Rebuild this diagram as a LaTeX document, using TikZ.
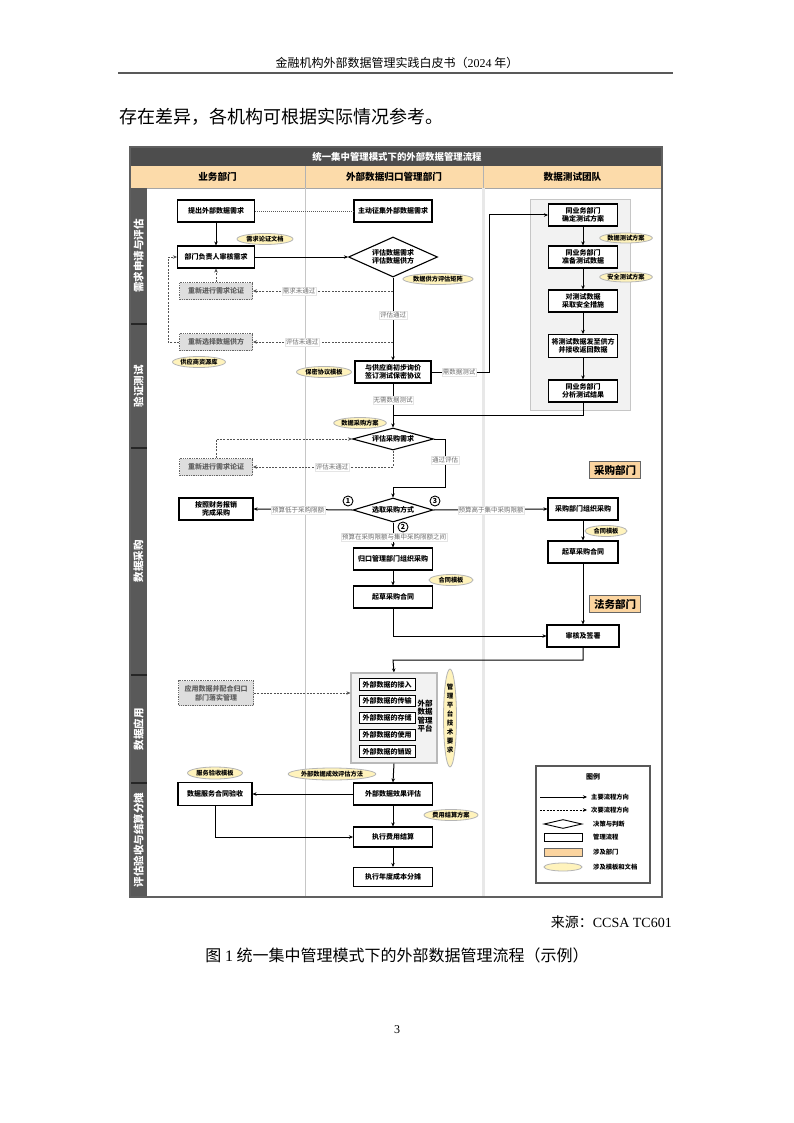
\documentclass[tikz,border=0pt]{standalone}
\usepackage{fontspec}
\setmainfont{Noto Sans CJK SC}
\newfontfamily\latinserif{Liberation Serif}
\usetikzlibrary{shapes.geometric,arrows.meta}

\definecolor{titlebg}{HTML}{4D4D4D}
\definecolor{lanebg}{HTML}{595959}
\definecolor{peach}{HTML}{FCDBAA}
\definecolor{deptfill}{HTML}{FBD49F}
\definecolor{docfill}{HTML}{FFF3BC}
\definecolor{docline}{HTML}{B5B5B5}
\definecolor{redofill}{HTML}{DEDEDE}
\definecolor{lblgray}{HTML}{6E6E6E}
\definecolor{groupfill}{HTML}{F2F2F2}

\newcommand\fBoxT{\fontsize{7}{8.6}\selectfont\bfseries}
\newcommand\fLblT{\fontsize{6.5}{7.5}\selectfont}
\newcommand\fDocT{\fontsize{6.2}{7.4}\selectfont\bfseries}
\newcommand\fTitleT{\fontsize{9.4}{11}\selectfont\bfseries}
\newcommand\fHeadT{\fontsize{9.6}{11}\selectfont\bfseries}
\newcommand\fLaneT{\fontsize{10.5}{12}\selectfont\bfseries}
\newcommand\fDeptT{\fontsize{10.5}{12}\selectfont\bfseries}
\newcommand\fNumT{\fontsize{7}{8}\selectfont\bfseries}
\newcommand\fLegT{\fontsize{6.3}{7.5}\selectfont\bfseries}

\begin{document}
\begin{tikzpicture}[x=1pt,y=-1pt,
  box/.style={draw=black, line width=1.1pt, fill=white, font=\fBoxT, align=center, inner sep=0pt, minimum width=77pt, minimum height=22pt},
  redo/.style={box, draw=gray!80!black, line width=0.9pt, dash pattern=on 1.3pt off 1pt, fill=redofill, text=gray!75!black, minimum width=73pt, minimum height=17pt},
  doc/.style={ellipse, draw=docline, line width=0.8pt, fill=docfill, font=\fDocT, inner sep=0pt, minimum width=56pt, minimum height=11pt},
  dec/.style={diamond, draw=black, line width=1.1pt, fill=white, font=\fBoxT, align=center, inner sep=0pt},
  deptbox/.style={draw=gray!80!black, line width=1pt, fill=deptfill, font=\fDeptT, minimum width=51pt, minimum height=17pt, inner sep=0pt},
  flow/.style={draw=black, line width=1pt, -{Stealth[length=4pt,width=3.5pt]}},
  dflow/.style={draw=gray!65!black, line width=0.9pt, dash pattern=on 2pt off 1.3pt, -{Stealth[length=4pt,width=3.5pt]}},
  lbl/.style={fill=white, draw=gray!20, line width=0.3pt, text=lblgray, font=\fLblT, inner sep=0.7pt},
  num/.style={circle, draw=black, line width=0.9pt, fill=white, font=\fNumT, inner sep=0pt, minimum size=10pt},
  plt/.style={draw=black, line width=1pt, fill=white, font=\fBoxT, minimum width=56pt, minimum height=11.5pt, inner sep=0pt},
  lane/.style={rotate=90, text=white, font=\fLaneT},
  legtxt/.style={anchor=west, font=\fLegT, inner sep=0pt}
]
\useasboundingbox (0,0) rectangle (794,1123);
\fill[white] (0,0) rectangle (794,1123);

% ---------- page text ----------
\node[font=\fontsize{12}{14}\selectfont] (pghead) at (397,63) {金融机构外部数据管理实践白皮书（{\latinserif 2024} 年）};
\draw[gray!70!black, line width=1.5pt] (118,73) -- (673,73);
\node[anchor=west, font=\fontsize{18}{20}\selectfont, inner sep=0pt] (bodytxt) at (119,117) {存在差异，各机构可根据实际情况参考。};
\node[anchor=east, font=\fontsize{14}{16}\selectfont, inner sep=0pt] (src) at (672,922) {来源：{\latinserif CCSA TC601}};
\node[font=\fontsize{16}{18}\selectfont, inner sep=0pt] (cap) at (397,955) {图 {\latinserif 1} 统一集中管理模式下的外部数据管理流程（示例）};
\node[font=\latinserif\fontsize{12}{14}\selectfont] (pgnum) at (397,1030) {3};

% ---------- frame ----------
\fill[white] (130,147) rectangle (662,897);
\fill[titlebg] (130,147) rectangle (662,166);
\node[font=\fTitleT, text=white] (title) at (397,156.5) {统一集中管理模式下的外部数据管理流程};
\fill[peach] (130,166) rectangle (662,188);
\draw[gray!70, line width=0.8pt] (130,188) -- (662,188);
\draw[gray!60, line width=0.8pt] (305,166) -- (305,188);
\draw[gray!60, line width=0.8pt] (483,166) -- (483,188);
\node[font=\fHeadT] (hA) at (217.5,177) {业务部门};
\node[font=\fHeadT] (hB) at (394,177) {外部数据归口管理部门};
\node[font=\fHeadT] (hC) at (572.5,177) {数据测试团队};
\draw[gray!45, line width=0.8pt] (305,188) -- (305,897);
\draw[gray!18, line width=3pt] (483,188) -- (483,897);
\fill[lanebg] (130,188) rectangle (147,897);
\foreach \yy in {324,448,675,783} \draw[black!85, line width=1.2pt] (130,\yy) -- (147,\yy);
\node[lane] (l1) at (138.5,256) {需求申请与评估};
\node[lane] (l2) at (138.5,386) {验证测试};
\node[lane] (l3) at (138.5,561) {数据采购};
\node[lane] (l4) at (138.5,729) {数据应用};
\node[lane] (l5) at (138.5,840) {评估验收与结算分摊};
\draw[gray!75!black, line width=1.5pt] (130,147) rectangle (662,897);

% ---------- containers ----------
\node[draw=gray!45, fill=groupfill, line width=1pt, minimum width=100pt, minimum height=210pt, inner sep=0pt] (tgroup) at (580,305) {};
\node[draw=gray!55, fill=groupfill, line width=1.2pt, minimum width=86pt, minimum height=90pt, inner sep=0pt] (plat) at (394,718) {};

% ---------- business column ----------
\node[box] (ask) at (216,211) {提出外部数据需求};
\node[box] (review) at (216,257) {部门负责人审核需求};
\node[redo] (redo1) at (216,291) {重新进行需求论证};
\node[doc] (doc1) at (265,239) {需求论证文档};
\node[redo] (resel) at (216,342) {重新选择数据供方};
\node[doc, minimum width=53pt] (doc2) at (199,362) {供应商资源库};
\node[redo] (redo2) at (216,467) {重新进行需求论证};
\node[box, minimum width=74pt] (fin) at (216,509) {按照财务报销\\完成采购};
\node[redo, minimum width=75pt, minimum height=25pt] (apply) at (216,693) {应用数据并配合归口\\部门落实管理};
\node[box, minimum width=74pt, minimum height=23pt] (acc) at (215,794) {数据服务合同验收};
\node[doc, minimum width=55pt, minimum height=12pt] (doc10) at (215,773) {服务验收模板};

% ---------- management column ----------
\node[box, minimum width=78pt] (collect) at (393,211) {主动征集外部数据需求};
\node[dec, aspect=2.2, minimum width=89pt, minimum height=40pt] (d1) at (393,257) {评估数据需求\\评估数据供方};
\node[doc, minimum width=61pt] (doc3) at (438,279) {数据供方评估矩阵};
\node[box, minimum width=76pt] (nego) at (393,372) {与供应商初步询价\\签订测试保密协议};
\node[doc, minimum width=55pt] (doc4) at (324,372) {保密协议模板};
\node[doc, minimum width=51pt] (doc5) at (360,423) {数据采购方案};
\node[dec, aspect=3.7, minimum width=81pt, minimum height=22pt] (d2) at (393,439) {评估采购需求};
\node[dec, aspect=3.3, minimum width=80pt, minimum height=24pt] (d3) at (393,510) {选取采购方式};
\node[box, minimum width=79pt] (mid1) at (393,559) {归口管理部门组织采购};
\node[doc, minimum width=44pt] (doc7) at (451,580) {合同模板};
\node[box, minimum width=79pt] (mid2) at (393,597) {起草采购合同};
\foreach \i/\t/\yy in {1/外部数据的接入/684.5, 2/外部数据的传输/701, 3/外部数据的存储/718, 4/外部数据的使用/735, 5/外部数据的销毁/751.5}
  \node[plt] (p\i) at (387,\yy) {\t};
\node[font=\fontsize{7.5}{8.3}\selectfont\bfseries, align=center, inner sep=0pt] (plattxt) at (425,716) {外部\\数据\\管理\\平台};
\node[doc, minimum width=13pt, minimum height=90pt, align=center, font=\fontsize{6.5}{9}\selectfont\bfseries] (doc8) at (450,718) {管\\理\\平\\台\\技\\术\\要\\求};
\node[box, minimum width=79pt] (eval) at (393,794) {外部数据效果评估};
\node[doc, minimum width=80pt, minimum height=12pt] (doc9) at (332,774) {外部数据成效评估方法};
\node[box, minimum width=79pt, minimum height=20pt] (settle) at (393,837) {执行费用结算};
\node[doc, minimum width=54pt] (doc11) at (451,815) {费用结算方案};
\node[box, minimum width=79pt, minimum height=19pt] (alloc) at (393,877) {执行年度成本分摊};

% ---------- testing / purchase column ----------
\node[box, minimum width=69pt] (t1) at (583,215) {同业务部门\\确定测试方案};
\node[doc, minimum width=50pt, minimum height=10pt] (doc12) at (626,238) {数据测试方案};
\node[box, minimum width=69pt] (t2) at (583,257) {同业务部门\\准备测试数据};
\node[doc, minimum width=50pt, minimum height=10pt] (doc13) at (626,277) {安全测试方案};
\node[box, minimum width=69pt] (t3) at (583,301) {对测试数据\\采取安全措施};
\node[box, minimum width=69pt, minimum height=23pt] (t4) at (583,346) {将测试数据发至供方\\并接收返回数据};
\node[box, minimum width=69pt] (t5) at (583,391) {同业务部门\\分析测试结果};
\node[deptbox] (deptA) at (615,470) {采购部门};
\node[box, minimum width=70pt] (pur1) at (583,509) {采购部门组织采购};
\node[doc, minimum width=42pt] (doc6) at (606,531) {合同模板};
\node[box, minimum width=70pt] (pur2) at (583,552) {起草采购合同};
\node[deptbox] (deptB) at (615,604) {法务部门};
\node[box, minimum width=72pt] (sign) at (583,636) {审核及签署};

% ---------- connectors ----------
\coordinate (c291) at (393,291);
\coordinate (c342) at (393,342);
\coordinate (c415) at (393,415);
\coordinate (t5turn) at (583,415);
\coordinate (c489) at (489,372);
\coordinate (r439) at (445,439);
\coordinate (r487) at (445,487);
\coordinate (m487) at (393,487);
\coordinate (m467) at (393,467);
\coordinate (l439) at (216,439);
\coordinate (s660) at (583,660);
\coordinate (m660) at (393,660);

\draw[draw=gray!70!black, line width=0.8pt, dash pattern=on 1pt off 1pt] (ask.east) -- (collect.west);
\draw[flow] (ask.south) -- (review.north);
\draw[flow] (review.east) -- (d1.west);
\draw[flow] (d1.south) -- (nego.north);
\draw[dflow] (c291) -- (redo1.east);
\draw[dflow] (redo1.north) -- (review.south);
\draw[dflow] (c342) -- (resel.east);
\draw[dflow] (resel.west) -- ++(-11,0) |- (review.west);
\draw[flow] (nego.east) -- (c489) |- (t1.west);
\draw[flow] (t1.south) -- (t2.north);
\draw[flow] (t2.south) -- (t3.north);
\draw[flow] (t3.south) -- (t4.north);
\draw[flow] (t4.south) -- (t5.north);
\draw[line width=1pt] (t5.south) -- (t5turn) -- (c415);
\draw[flow] (nego.south) -- (d2.north);
\draw[flow] (d2.east) -- (r439) -- (r487) -- (m487) -- (d3.north);
\draw[dflow] (d2.south) -- (m467) -- (redo2.east);
\draw[dflow] (redo2.north) -- (l439) -- (d2.west);
\draw[flow] (d3.west) -- (fin.east);
\draw[flow] (d3.east) -- (pur1.west);
\draw[flow] (d3.south) -- (mid1.north);
\draw[flow] (mid1.south) -- (mid2.north);
\draw[flow] (mid2.south) |- (sign.west);
\draw[flow] (pur1.south) -- (pur2.north);
\draw[flow] (pur2.south) -- (sign.north);
\draw[flow] (sign.south) -- (s660) -- (m660) -- (plat.north);
\draw[dflow] (apply.east) -- (plat.west |- apply.east);
\draw[flow] (plat.south) -- (eval.north);
\draw[flow] (eval.west) -- (acc.east);
\draw[flow] (acc.south) |- (settle.west);
\draw[flow] (eval.south) -- (settle.north);
\draw[flow] (settle.south) -- (alloc.north);

% ---------- connector labels ----------
\node[lbl] (lb1) at (299,291) {需求未通过};
\node[lbl] (lb2) at (393,315) {评估通过};
\node[lbl] (lb3) at (302,342) {评估未通过};
\node[lbl] (lb4) at (459,372) {需数据测试};
\node[lbl] (lb5) at (393,400) {无需数据测试};
\node[lbl] (lb6) at (445,460) {通过评估};
\node[lbl] (lb7) at (332,467) {评估未通过};
\node[lbl] (lb8) at (298,510) {预算低于采购限额};
\node[lbl] (lb9) at (491,510) {预算高于集中采购限额};
\node[lbl] (lb10) at (394,537) {预算在采购限额与集中采购限额之间};
\node[num] (n1) at (348,501) {1};
\node[num] (n3) at (435,501) {3};
\node[num] (n2) at (403,527) {2};

% ---------- legend ----------
\node[draw=gray!70!black, line width=1.2pt, fill=white, minimum width=114pt, minimum height=117pt, inner sep=0pt] (legend) at (593,824.5) {};
\node[font=\fBoxT] (legtitle) at (593,777) {图例};
\coordinate (la1) at (540,797); \coordinate (la2) at (587,797);
\coordinate (lb1s) at (540,810); \coordinate (lb2s) at (587,810);
\draw[flow] (la1) -- (la2);
\draw[flow, draw=black, dash pattern=on 2pt off 1.3pt] (lb1s) -- (lb2s);
\node[legtxt] (lt1) at (591,797) {主要流程方向};
\node[legtxt] (lt2) at (591,810) {次要流程方向};
\node[dec, aspect=4.2, minimum width=38pt, minimum height=9pt, line width=0.9pt] (lgD) at (563,824) {};
\node[legtxt] (lt3) at (593,824) {决策与判断};
\node[draw=black, line width=0.9pt, fill=white, minimum width=38pt, minimum height=8pt, inner sep=0pt] (lgR) at (563,837) {};
\node[legtxt] (lt4) at (593,837) {管理流程};
\node[draw=gray!80!black, line width=0.9pt, fill=deptfill, minimum width=38pt, minimum height=8pt, inner sep=0pt] (lgO) at (563,852) {};
\node[legtxt] (lt5) at (593,852) {涉及部门};
\node[doc, minimum width=38pt, minimum height=8pt] (lgE) at (563,867) {};
\node[legtxt] (lt6) at (593,867) {涉及模板和文档};
\end{tikzpicture}
\end{document}
